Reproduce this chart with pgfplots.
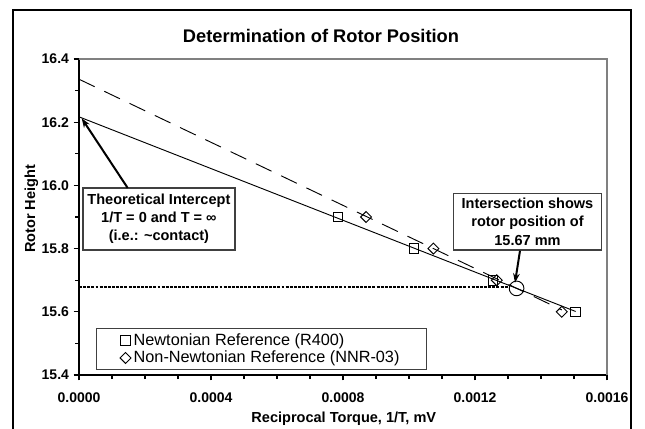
\documentclass[border=0pt]{standalone}
\usepackage{fontspec}
\setmainfont{Liberation Sans}
\usepackage{pgfplots}
\pgfplotsset{compat=1.18}
\usetikzlibrary{arrows.meta}

\begin{document}
\begin{tikzpicture}[x=0.75pt,y=0.75pt]
\useasboundingbox (0,0) rectangle (645,428);
\draw[line width=0.9pt] (13,-5) -- (13,418) -- (631,418) -- (631,-5);
\begin{axis}[
  at={(59.25pt,39.75pt)}, anchor=south west, scale only axis,
  width=396pt, height=237pt,
  xmin=0, xmax=0.0016, ymin=15.4, ymax=16.4,
  axis x line*=bottom, axis y line*=left,
  axis line style={line width=1.1pt, -},
  xtick={0,0.0004,0.0008,0.0012,0.0016},
  ytick={15.4,15.6,15.8,16.0,16.2,16.4},
  minor x tick num=3, minor y tick num=1,
  tick align=outside, major tick length=4pt, minor tick length=3pt,
  tick style={black, line width=0.8pt},
  scaled x ticks=false, scaled y ticks=false,
  xticklabel style={/pgf/number format/fixed, /pgf/number format/fixed zerofill, /pgf/number format/precision=4, /pgf/number format/assume math mode=true, yshift=-6pt},
  yticklabel style={/pgf/number format/fixed, /pgf/number format/fixed zerofill, /pgf/number format/precision=1, /pgf/number format/assume math mode=true},
  ticklabel style={font=\fontsize{10.5}{12}\selectfont\bfseries},
  clip=false,
  legend style={at={(0.0315,0.0158)}, anchor=south west, font=\fontsize{12.2}{14}\selectfont, draw=black!75, line width=0.7pt, inner xsep=18pt, inner ysep=1.5pt, row sep=-1pt},
  legend cell align=left,
  legend image code/.code={\draw[mark repeat=2,mark phase=2] plot coordinates {(0cm,0cm)(0.13cm,0cm)(0.2cm,0cm)};},
]
\addplot[only marks, mark=square, mark size=3.6pt, line width=0.7pt] coordinates {(0.000785,15.9)(0.001015,15.8)(0.001255,15.7)(0.001505,15.6)};
\addlegendentry{Newtonian Reference (R400)}
\addplot[only marks, mark=square, mark options={rotate=45}, mark size=2.9pt, line width=0.7pt] coordinates {(0.00087,15.9)(0.001074,15.8)(0.001266,15.7)(0.001463,15.6)};
\addlegendentry{Non-Newtonian Reference (NNR-03)}
\addplot[forget plot, black, line width=0.7pt] coordinates {(0,16.217)(0.001505,15.601)};
\addplot[forget plot, black, line width=0.7pt, dash pattern=on 13pt off 8pt] coordinates {(0,16.336)(0.001463,15.606)};
\addplot[forget plot, black, line width=1.5pt, dash pattern=on 2.2pt off 0.9pt] coordinates {(0,15.68)(0.0013,15.68)};
\addplot[forget plot, only marks, mark=o, mark size=5.5pt, line width=0.7pt] coordinates {(0.001326,15.674)};
\end{axis}
\draw[gray, line width=1.1pt] (79,369) -- (607,369) -- (607,53);
\node[anchor=base, font=\fontsize{13.7}{16}\selectfont\bfseries] at (321,385.7) {Determination of Rotor Position};
\node[rotate=90, anchor=base, font=\fontsize{10.9}{13}\selectfont\bfseries] at (35,219) {Rotor Height};
\node[anchor=base, font=\fontsize{10.9}{13}\selectfont\bfseries] at (343.8,5.7) {Reciprocal Torque, 1/T, mV};
\node[draw=black!75, line width=0.9pt, fill=white, align=center, font=\fontsize{10.9}{13.4}\selectfont\bfseries, minimum width=114pt, minimum height=46.5pt, inner sep=1pt] at (158.9,209) {Theoretical Intercept\\1/T = 0 and T = ∞\\(i.e.: \textasciitilde contact)};
\node[draw=black!75, line width=0.9pt, fill=white, align=center, font=\fontsize{10.9}{13.8}\selectfont\bfseries, minimum width=111.3pt, minimum height=42.5pt, inner sep=1pt] at (527.5,206.3) {Intersection shows\\rotor position of\\15.67 mm};
\draw[-{Stealth[length=7pt,width=5pt]}, line width=1.5pt] (127.7,240) -- (81.7,309.7);
\draw[-{Stealth[length=7pt,width=5pt]}, line width=1.5pt] (520,177.3) -- (515,145.3);
\end{tikzpicture}
\end{document}
